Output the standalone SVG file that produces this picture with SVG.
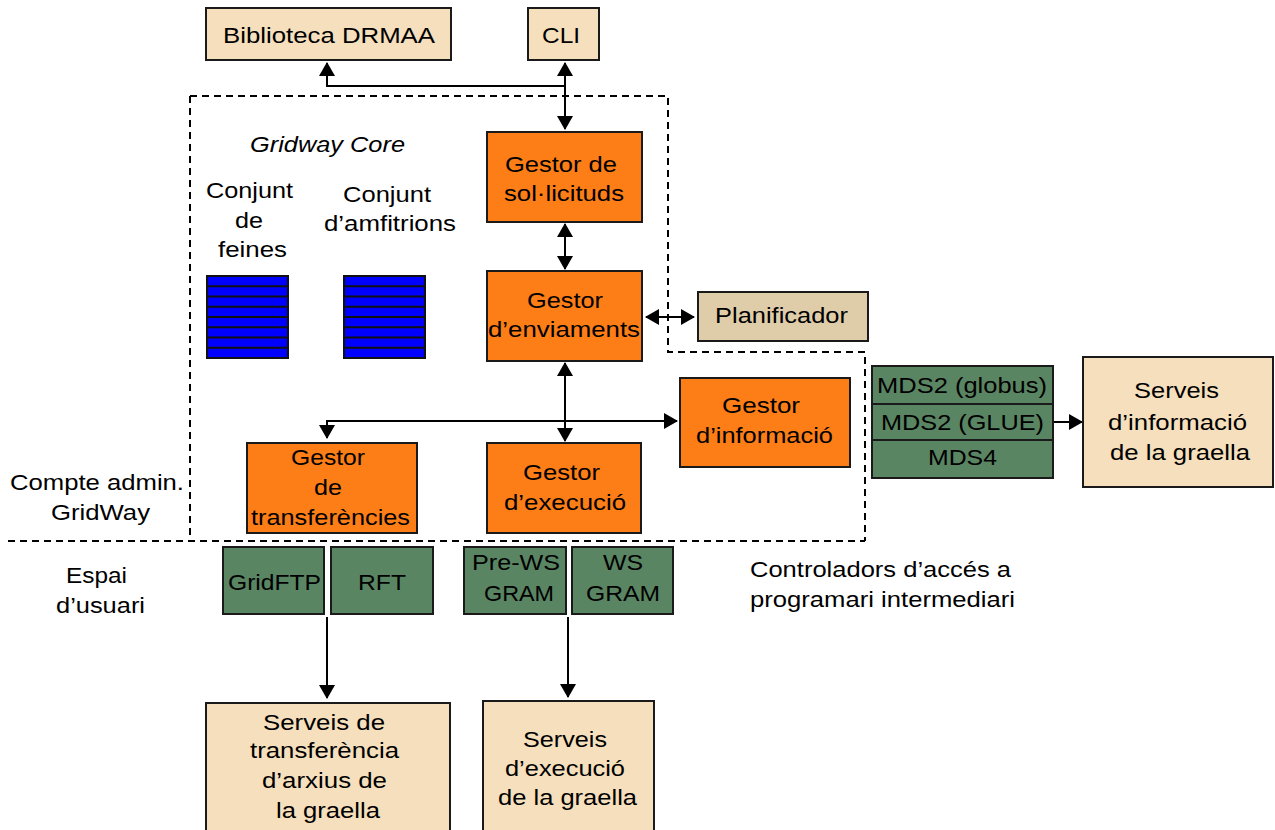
<svg xmlns="http://www.w3.org/2000/svg" width="1275" height="830" viewBox="0 0 1275 830">
<style>
text{font-family:"Liberation Sans",Arial,sans-serif;font-size:22.5px;fill:#000}
.it{font-style:italic}
.box{stroke:#1a1a1a;stroke-width:2}
.beige{fill:#F5DFBC}
.plan{fill:#DFCDAA}
.orange{fill:#FD7D17}
.green{fill:#5A8563}
.blue{fill:#0000FF;stroke:#111;stroke-width:2}
.stripe{stroke:#111;stroke-width:2}
.dash{fill:none;stroke:#000;stroke-width:2;stroke-dasharray:7 5}
.conn{fill:none;stroke:#000;stroke-width:2}
</style>
<defs>
<marker id="ah" viewBox="0 0 14 16" refX="13" refY="8" markerWidth="14" markerHeight="16" markerUnits="userSpaceOnUse" orient="auto-start-reverse">
<path d="M0,0 L14,8 L0,16 z" fill="#000"/>
</marker>
</defs>

<g id="boundary">
<path class="dash" d="M190,96 L668,96 L668,352 L865,352 L865,541"/>
<path class="dash" d="M190,96 L190,541"/>
<path class="dash" d="M8,541 L865,541"/>
</g>

<g id="connectors">
<line class="conn" x1="565" y1="63" x2="565" y2="129" marker-start="url(#ah)" marker-end="url(#ah)"/>
<path class="conn" d="M565,86 L327,86 L327,63" marker-end="url(#ah)"/>
<line class="conn" x1="565" y1="224" x2="565" y2="269" marker-start="url(#ah)" marker-end="url(#ah)"/>
<line class="conn" x1="646" y1="317" x2="694" y2="317" marker-start="url(#ah)" marker-end="url(#ah)"/>
<line class="conn" x1="565" y1="363" x2="565" y2="441" marker-start="url(#ah)" marker-end="url(#ah)"/>
<path class="conn" d="M327,438 L327,421 L677,421" marker-start="url(#ah)" marker-end="url(#ah)"/>
<line class="conn" x1="1053" y1="422" x2="1082" y2="422" marker-end="url(#ah)"/>
<line class="conn" x1="327" y1="617" x2="327" y2="698" marker-end="url(#ah)"/>
<line class="conn" x1="568" y1="617" x2="568" y2="697" marker-end="url(#ah)"/>
</g>

<g id="drmaa">
<rect class="box beige" x="206" y="8" width="245" height="52"/>
<text x="223" y="43" textLength="212" lengthAdjust="spacingAndGlyphs">Biblioteca DRMAA</text>
</g>
<g id="cli">
<rect class="box beige" x="528" y="8" width="71" height="52"/>
<text x="542" y="43" textLength="38" lengthAdjust="spacingAndGlyphs">CLI</text>
</g>

<g id="core-label">
<text class="it" x="250" y="152" textLength="155" lengthAdjust="spacingAndGlyphs">Gridway Core</text>
</g>

<g id="job-pool">
<text x="206" y="198" textLength="87" lengthAdjust="spacingAndGlyphs">Conjunt</text>
<text x="235" y="228" textLength="28" lengthAdjust="spacingAndGlyphs">de</text>
<text x="218" y="257" textLength="69" lengthAdjust="spacingAndGlyphs">feines</text>
<rect class="blue" x="207" y="276" width="81" height="82"/>
<path class="stripe" d="M207,286.25H288M207,296.5H288M207,306.75H288M207,317H288M207,327.25H288M207,337.5H288M207,347.75H288"/>
</g>

<g id="host-pool">
<text x="343" y="202" textLength="88" lengthAdjust="spacingAndGlyphs">Conjunt</text>
<text x="324" y="231" textLength="132" lengthAdjust="spacingAndGlyphs">d’amfitrions</text>
<rect class="blue" x="344" y="276" width="81" height="82"/>
<path class="stripe" d="M344,286.25H425M344,296.5H425M344,306.75H425M344,317H425M344,327.25H425M344,337.5H425M344,347.75H425"/>
</g>

<g id="request-manager">
<rect class="box orange" x="487" y="132" width="155" height="90"/>
<text x="505" y="172" textLength="112" lengthAdjust="spacingAndGlyphs">Gestor de</text>
<text x="504" y="201" textLength="120" lengthAdjust="spacingAndGlyphs">sol·licituds</text>
</g>

<g id="dispatch-manager">
<rect class="box orange" x="487" y="271" width="155" height="90"/>
<text x="527" y="308" textLength="76" lengthAdjust="spacingAndGlyphs">Gestor</text>
<text x="488" y="337" textLength="152" lengthAdjust="spacingAndGlyphs">d’enviaments</text>
</g>

<g id="scheduler">
<rect class="box plan" x="698" y="292" width="170" height="49"/>
<text x="715" y="323" textLength="133" lengthAdjust="spacingAndGlyphs">Planificador</text>
</g>

<g id="info-manager">
<rect class="box orange" x="680" y="378" width="170" height="89"/>
<text x="722" y="413" textLength="78" lengthAdjust="spacingAndGlyphs">Gestor</text>
<text x="696" y="443" textLength="137" lengthAdjust="spacingAndGlyphs">d’informació</text>
</g>

<g id="transfer-manager">
<rect class="box orange" x="247" y="443" width="170" height="90"/>
<text x="291" y="465" textLength="74" lengthAdjust="spacingAndGlyphs">Gestor</text>
<text x="314" y="495" textLength="28" lengthAdjust="spacingAndGlyphs">de</text>
<text x="251" y="525" textLength="159" lengthAdjust="spacingAndGlyphs">transferències</text>
</g>

<g id="execution-manager">
<rect class="box orange" x="487" y="443" width="154" height="90"/>
<text x="523" y="480" textLength="77" lengthAdjust="spacingAndGlyphs">Gestor</text>
<text x="504" y="510" textLength="122" lengthAdjust="spacingAndGlyphs">d’execució</text>
</g>

<g id="mds">
<rect class="box green" x="872" y="366" width="181" height="38"/>
<rect class="box green" x="872" y="404" width="181" height="36"/>
<rect class="box green" x="872" y="440" width="181" height="38"/>
<text x="877" y="393" textLength="170" lengthAdjust="spacingAndGlyphs">MDS2 (globus)</text>
<text x="881" y="430" textLength="163" lengthAdjust="spacingAndGlyphs">MDS2 (GLUE)</text>
<text x="928" y="465" textLength="69" lengthAdjust="spacingAndGlyphs">MDS4</text>
</g>

<g id="info-services">
<rect class="box beige" x="1083" y="357" width="190" height="130"/>
<text x="1134" y="398" textLength="85" lengthAdjust="spacingAndGlyphs">Serveis</text>
<text x="1108" y="430" textLength="139" lengthAdjust="spacingAndGlyphs">d’informació</text>
<text x="1110" y="460" textLength="140" lengthAdjust="spacingAndGlyphs">de la graella</text>
</g>

<g id="labels">
<text x="10" y="490" textLength="174" lengthAdjust="spacingAndGlyphs">Compte admin.</text>
<text x="51" y="520" textLength="99" lengthAdjust="spacingAndGlyphs">GridWay</text>
<text x="66" y="583" textLength="61" lengthAdjust="spacingAndGlyphs">Espai</text>
<text x="56" y="613" textLength="89" lengthAdjust="spacingAndGlyphs">d’usuari</text>
<text x="750" y="577" textLength="261" lengthAdjust="spacingAndGlyphs">Controladors d’accés a</text>
<text x="750" y="607" textLength="265" lengthAdjust="spacingAndGlyphs">programari intermediari</text>
</g>

<g id="gridftp">
<rect class="box green" x="223" y="547" width="101" height="67"/>
<text x="228" y="590" textLength="93" lengthAdjust="spacingAndGlyphs">GridFTP</text>
</g>
<g id="rft">
<rect class="box green" x="331" y="547" width="102" height="67"/>
<text x="358" y="590" textLength="48" lengthAdjust="spacingAndGlyphs">RFT</text>
</g>
<g id="prews-gram">
<rect class="box green" x="464" y="547" width="102" height="67"/>
<text x="472" y="570" textLength="88" lengthAdjust="spacingAndGlyphs">Pre-WS</text>
<text x="484" y="601" textLength="70" lengthAdjust="spacingAndGlyphs">GRAM</text>
</g>
<g id="ws-gram">
<rect class="box green" x="572" y="547" width="101" height="67"/>
<text x="603" y="570" textLength="40" lengthAdjust="spacingAndGlyphs">WS</text>
<text x="586" y="601" textLength="74" lengthAdjust="spacingAndGlyphs">GRAM</text>
</g>

<g id="transfer-services">
<rect class="box beige" x="206" y="703" width="244" height="135"/>
<text x="263" y="730" textLength="122" lengthAdjust="spacingAndGlyphs">Serveis de</text>
<text x="250" y="758" textLength="149" lengthAdjust="spacingAndGlyphs">transferència</text>
<text x="262" y="788" textLength="125" lengthAdjust="spacingAndGlyphs">d’arxius de</text>
<text x="276" y="818" textLength="104" lengthAdjust="spacingAndGlyphs">la graella</text>
</g>

<g id="execution-services">
<rect class="box beige" x="483" y="701" width="171" height="137"/>
<text x="523" y="747" textLength="84" lengthAdjust="spacingAndGlyphs">Serveis</text>
<text x="505" y="776" textLength="120" lengthAdjust="spacingAndGlyphs">d’execució</text>
<text x="498" y="805" textLength="139" lengthAdjust="spacingAndGlyphs">de la graella</text>
</g>
</svg>
